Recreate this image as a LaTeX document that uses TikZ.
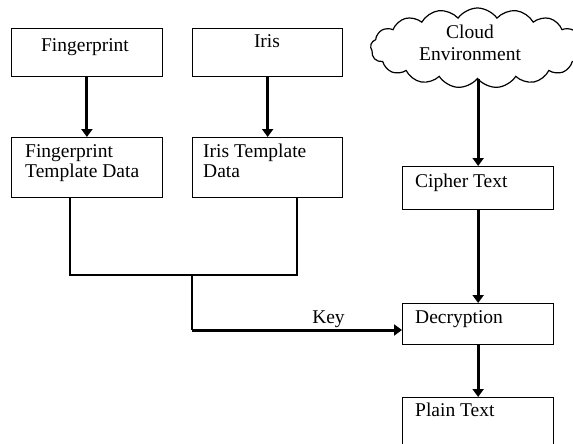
\documentclass[tikz,border=0pt]{standalone}
\usepackage{fontspec}
\setmainfont{Liberation Serif}
\usetikzlibrary{arrows.meta,shapes.symbols}
\begin{document}
\begin{tikzpicture}[x=1pt,y=-1pt,
  box/.style={draw, line width=1.3pt, inner sep=0pt, anchor=north west},
  txt/.style={inner sep=0pt, font=\fontsize{19.5}{22}\selectfont},
  conn/.style={line width=1.3pt},
  arr/.style={line width=3pt, -{Triangle[length=8pt,width=11pt]}},
]
\useasboundingbox[fill=white] (0,0) rectangle (573,444);
% boxes
\node[box, minimum width=151.5pt, minimum height=48pt] (fp) at (10.5,28) {};
\node[box, minimum width=150pt, minimum height=48pt] (iris) at (192,28) {};
\node[box, minimum width=151.5pt, minimum height=60pt] (ftd) at (10.5,137) {};
\node[box, minimum width=150pt, minimum height=60pt] (itd) at (192,137) {};
\node[box, minimum width=151pt, minimum height=43pt] (cipher) at (402,166) {};
\node[box, minimum width=151pt, minimum height=41pt] (dec) at (402,303) {};
\node[box, minimum width=151pt, minimum height=60pt] (plain) at (402,397) {};
\node[cloud, draw, line width=1.2pt, cloud puffs=17, cloud puff arc=110, aspect=2.5,
      minimum width=214pt, minimum height=80pt, inner sep=0pt] (cloud) at (477.5,48) {};
% texts
\node[txt, anchor=base] (fp-t) at (85,52) {Fingerprint};
\node[txt, anchor=base] (iris-t) at (267,48) {Iris};
\node[txt, anchor=base west] (ftd-t1) at (25,157) {Fingerprint};
\node[txt, anchor=base west] (ftd-t2) at (25,177) {Template Data};
\node[txt, anchor=base west] (itd-t1) at (203,157) {Iris Template};
\node[txt, anchor=base west] (itd-t2) at (203,177) {Data};
\node[txt, anchor=base west] (cipher-t) at (415,187) {Cipher Text};
\node[txt, anchor=base west] (dec-t) at (415,323) {Decryption};
\node[txt, anchor=base west] (plain-t) at (415,416) {Plain Text};
\node[txt, anchor=base] (cloud-t1) at (470,39) {Cloud};
\node[txt, anchor=base] (cloud-t2) at (470,61) {Environment};
% arrows
\draw[arr] (fp) -- (ftd);
\draw[arr] (iris) -- (itd);
\draw[arr] (cloud.south -| cipher) -- (cipher);
\draw[arr] (cipher) -- (dec);
\draw[arr] (dec) -- (plain);
% key path
\coordinate (j1) at (70,275);
\coordinate (j2) at (297,275);
\coordinate (j3) at (192,275);
\coordinate (k) at (192,330);
\draw[conn] (ftd.south -| j1) -- (j1) -- (j2) -- (itd.south -| j2);
\draw[conn] (j3) -- (k);
\draw[arr] (k) -- (k -| dec.west) node[txt, pos=0.65, anchor=base, yshift=7pt] (key) {Key};
\end{tikzpicture}
\end{document}
